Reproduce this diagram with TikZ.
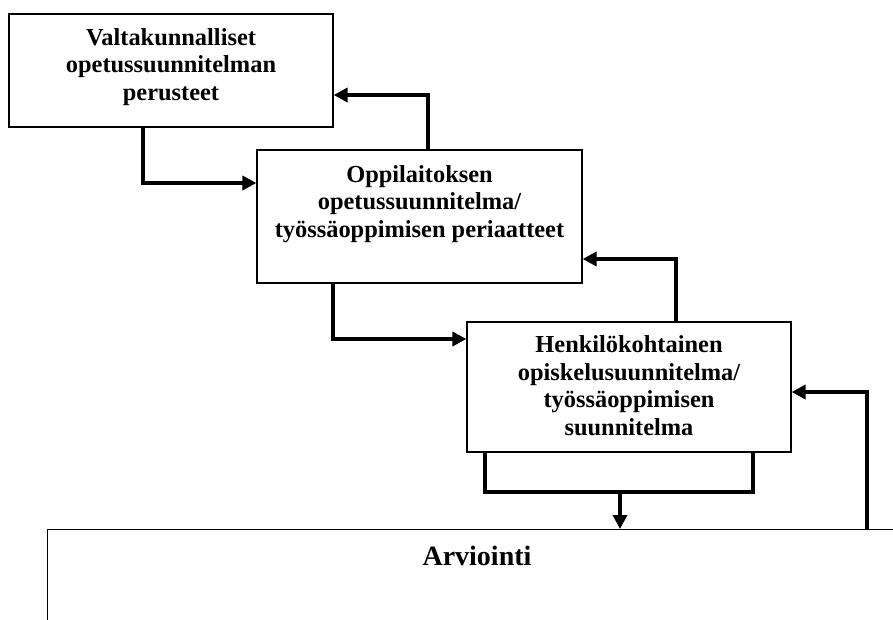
\documentclass[tikz,border=0pt]{standalone}
\usepackage{fontspec}
\setmainfont{Liberation Serif}
\usetikzlibrary{arrows.meta}
\begin{document}
\begin{tikzpicture}[x=1pt,y=-1pt,
  frame/.style={draw=black, line width=1.2pt, inner sep=0pt, fill=white},
  txt/.style={font=\bfseries\fontsize{24.4}{27.5}\selectfont, align=center, inner sep=0pt, anchor=base},
  bigtxt/.style={font=\bfseries\fontsize{28}{32}\selectfont, inner sep=0pt, anchor=base},
  bar/.style={line width=4pt, line join=miter},
  flow/.style={bar, -{Triangle[length=14pt,width=14pt]}}]
\useasboundingbox (0,0) rectangle (893,619);
\clip (0,0) rectangle (893,619);

% boxes
\node[frame, minimum width=324pt, minimum height=113pt] (b1) at (171,70.5) {};
\node[frame, minimum width=325pt, minimum height=133pt] (b2) at (419.5,216.5) {};
\node[frame, minimum width=324pt, minimum height=130pt] (b3) at (629,387) {};
\node[frame, anchor=north west, minimum width=1000pt, minimum height=200pt] (b4) at (47,529) {};

% box texts (placed by the baseline of their last line)
\node[txt] (t1) at (171,100) {Valtakunnalliset\\opetussuunnitelman\\perusteet};
\node[txt] (t2) at (419.5,237) {Oppilaitoksen\\opetussuunnitelma/\\työssäoppimisen periaatteet};
\node[txt] (t3) at (629,435) {Henkilökohtainen\\opiskelusuunnitelma/\\työssäoppimisen\\suunnitelma};
\node[bigtxt] (t4) at (477,565) {Arviointi};

% connectors
\coordinate (k1) at (143,183);
\draw[flow] (b1.south -| k1) |- (k1 -| b2.west);
\coordinate (k2) at (428,95);
\draw[flow] (b2.north -| k2) |- (k2 -| b1.east);
\coordinate (k3) at (333,339);
\draw[flow] (b2.south -| k3) |- (k3 -| b3.west);
\coordinate (k4) at (676,259);
\draw[flow] (b3.north -| k4) |- (k4 -| b2.east);

% bracket under the personal plan, feeding the evaluation
\coordinate (l) at (485,492);
\coordinate (r) at (753,492);
\draw[bar] (b3.south -| l) -- (l) -- (r) -- (b3.south -| r);
\coordinate (m) at (620,492);
\draw[flow] (m) -- (m |- b4.north);

% feedback from evaluation
\coordinate (k5) at (867,392);
\draw[flow] (b4.north -| k5) |- (k5 -| b3.east);
\end{tikzpicture}
\end{document}
